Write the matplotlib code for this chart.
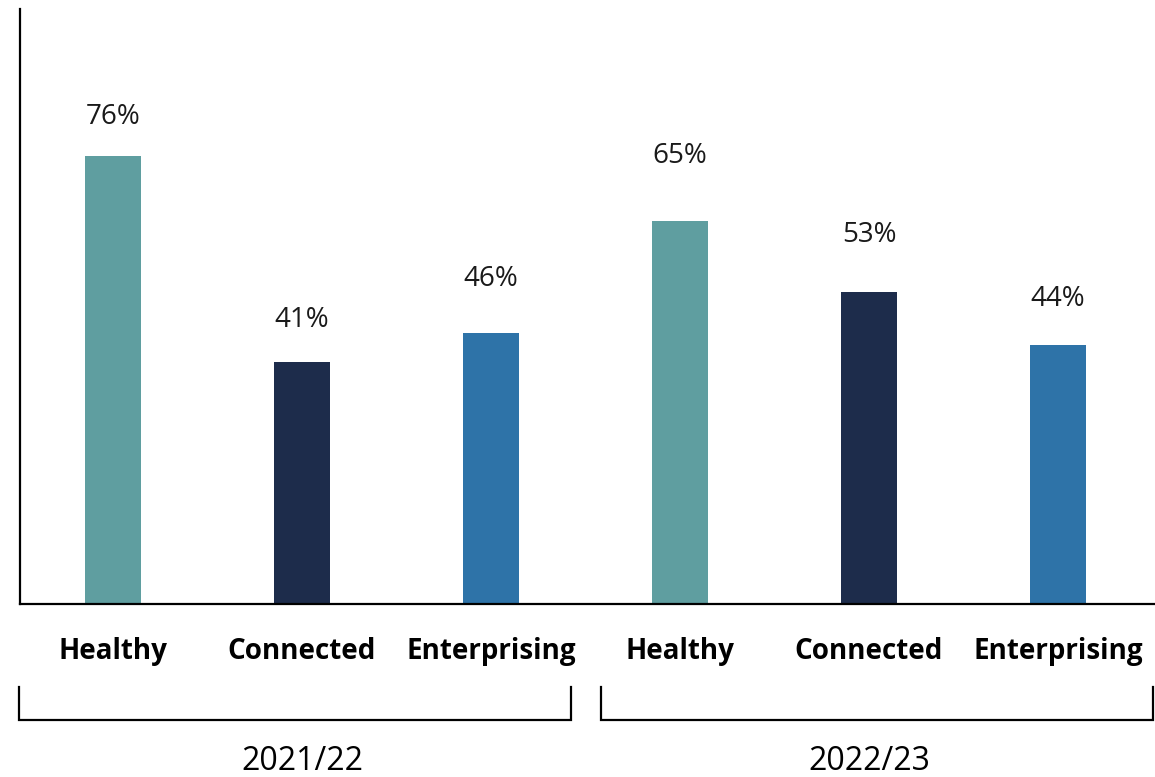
import numpy as np
import matplotlib.pyplot as plt
from matplotlib.lines import Line2D

plt.rcParams['font.family'] = ['Open Sans', 'DejaVu Sans']

categories = ["Healthy", "Connected", "Enterprising", "Healthy", "Connected", "Enterprising"]
values = [76, 41, 46, 65, 53, 44]
years = ["2021/22", "2022/23"]
colors = ["#5F9EA0", "#1D2C4B", "#2E73A8"] * 2
# gap (px) between bar top and the centre of its value label, as in the original
label_gap = [39, 42, 54, 65, 57, 46]

W, H = 1155, 777
fig = plt.figure(figsize=(W/100, H/100), dpi=100)
ax = fig.add_axes([20/W, (H-604)/H, 1 - 20/W, (604-9)/H])

x = np.arange(len(values))
ax.bar(x, values, width=0.296, color=colors)
for xi, v, g in zip(x, values, label_gap):
    ax.annotate(f"{v}%", (xi, v), xytext=(0, g), textcoords="offset pixels",
                ha="center", va="center", fontsize=20, color="#1a1a1a")

ax.set_xlim(-0.492, 5.513)
ax.set_ylim(0, 101)
ax.set_xticks(x)
ax.set_xticklabels(categories, fontsize=20, fontweight="bold")
ax.tick_params(axis="x", length=0, pad=24)
ax.set_yticks([])
for s in ["top", "right"]:
    ax.spines[s].set_visible(False)
for s in ["left", "bottom"]:
    ax.spines[s].set_linewidth(1.6)

# group brackets below the category labels (figure pixel coords)
def px(xp, yp):
    return xp / W, 1 - yp / H

for (x0, x1) in [(19, 571), (601, 1153)]:
    pts = [px(x0, 687), px(x0, 720), px(x1, 720), px(x1, 687)]
    fig.add_artist(Line2D([p[0] for p in pts], [p[1] for p in pts],
                          color="black", lw=1.6, solid_joinstyle="miter"))

for i, yr in enumerate(years):
    xc = ax.transData.transform((1 + 3*i, 0))[0] / W
    fig.text(xc, 1 - 762/H, yr, ha="center", va="center", fontsize=23)

fig.savefig("out.png", dpi=100)
